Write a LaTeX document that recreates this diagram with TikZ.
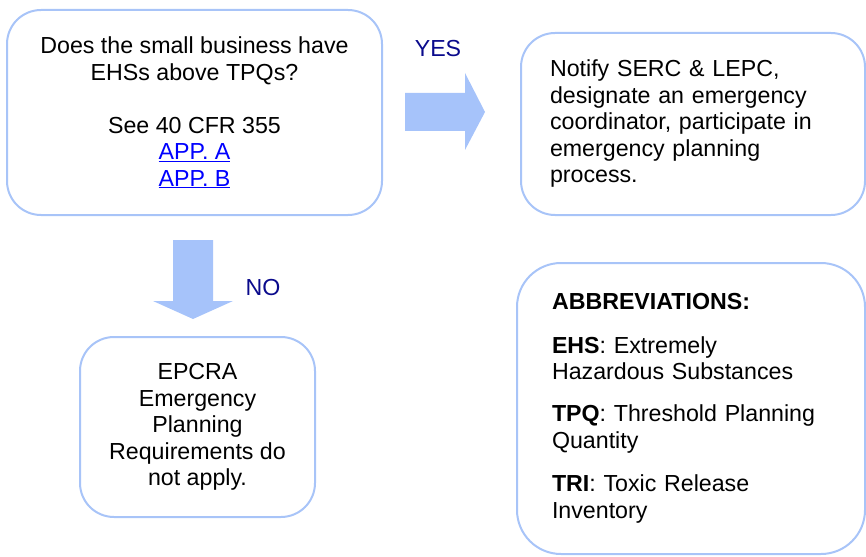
\documentclass[tikz,border=0pt]{standalone}
\usepackage{fontspec}
\setmainfont{Liberation Sans}
\definecolor{boxblue}{HTML}{A8C4F8}
\definecolor{arrowblue}{HTML}{A6C3FA}
\definecolor{labelblue}{HTML}{0A0A8C}
\definecolor{linkblue}{HTML}{0000FF}
\newcommand{\applink}[1]{\textcolor{linkblue}{\underline{#1}}}
\begin{document}
\begin{tikzpicture}[x=1pt,y=-1pt,
  box/.style={draw=boxblue, line width=2pt, rounded corners=34pt, fill=white,
    inner sep=0pt, font=\fontsize{23.2}{26.5}\selectfont},
  lbl/.style={text=labelblue, font=\fontsize{23.2}{26.5}\selectfont, inner sep=0pt},
  blockarrow/.style={fill=arrowblue, draw=none}]
\useasboundingbox (0,0) rectangle (866,556);

% question box
\node[box, minimum width=375pt, minimum height=205pt, align=center] (q) at (194.5,112.5)
  {Does the small business have\\EHSs above TPQs?\\[26.5pt]See 40 CFR 355\\\applink{APP. A}\\\applink{APP. B}};

% yes box
\node[box, minimum width=344pt, minimum height=182pt, text width=286pt, align=left] (yes) at (693,124)
  {Notify SERC \& LEPC,\\designate an emergency\\coordinator, participate in\\emergency planning\\process.};

% no box
\node[box, minimum width=235pt, minimum height=180pt, align=center] (no) at (197.5,427)
  {EPCRA\\Emergency\\Planning\\Requirements do\\not apply.};

% abbreviations box
\node[box, rounded corners=44pt, minimum width=348pt, minimum height=291pt, text width=278pt, align=left] (abbr) at (691,408.5)
  {\textbf{ABBREVIATIONS:}\\[17pt]\textbf{EHS}: Extremely\\Hazardous Substances\\[15.5pt]\textbf{TPQ}: Threshold Planning\\Quantity\\[17pt]\textbf{TRI}: Toxic Release\\Inventory};

% block arrows
\fill[blockarrow] (405,93) -- (465,93) -- (465,73) -- (485,112) -- (465,150) -- (465,131) -- (405,131) -- cycle;
\fill[blockarrow] (173,240) -- (213,240) -- (213,301) -- (233,301) -- (193,319) -- (153,301) -- (173,301) -- cycle;

% labels
\node[lbl] (yeslbl) at (438,49) {YES};
\node[lbl] (nolbl) at (263,288) {NO};
\end{tikzpicture}
\end{document}
